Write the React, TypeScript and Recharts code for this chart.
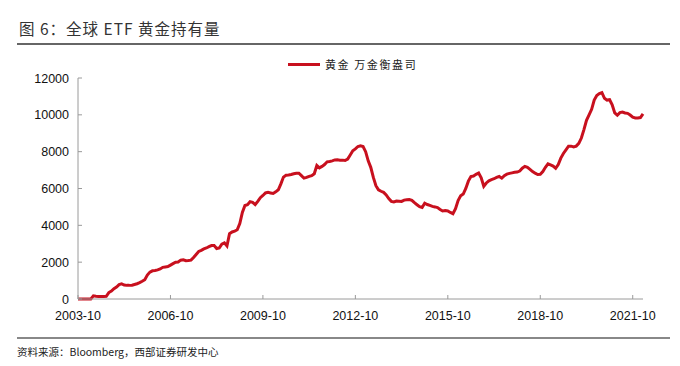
import { LineChart, Line, XAxis, YAxis } from 'recharts'

// 全球 ETF 黄金持有量 (万金衡盎司), monthly from 2003-10
const startYear = 2003
const startMonth = 10

const holdings = [
  0, 0, 0, 0, 0, 0, 170, 150, 140, 140,
  140, 150, 350, 430, 560, 650, 780, 820, 760, 740,
  740, 750, 790, 830, 890, 960, 1050, 1300, 1460, 1530,
  1550, 1580, 1630, 1720, 1740, 1760, 1840, 1920, 2000, 2010,
  2110, 2130, 2080, 2090, 2110, 2250, 2420, 2580, 2640, 2720,
  2770, 2840, 2900, 2900, 2740, 2770, 2980, 3050, 2880, 3550,
  3640, 3680, 3760, 4100, 4700, 5080, 5120, 5280, 5250, 5130,
  5300, 5500, 5620, 5760, 5790, 5760, 5730, 5820, 5930, 6250,
  6620, 6720, 6730, 6760, 6800, 6830, 6830, 6700, 6560, 6600,
  6660, 6700, 6800, 7250, 7120, 7200, 7300, 7450, 7470, 7500,
  7550, 7560, 7540, 7540, 7520, 7600, 7820, 8050, 8150, 8280,
  8320, 8280, 8000, 7500, 7150, 6600, 6150, 5930, 5850, 5790,
  5650, 5450, 5300, 5270, 5320, 5310, 5300, 5370, 5390, 5400,
  5360, 5230, 5120, 5010, 4970, 5200, 5130, 5080, 5030, 5000,
  4960, 4860, 4780, 4800, 4780, 4700, 4630, 4900, 5350, 5600,
  5700, 6000, 6400, 6650, 6680, 6770, 6840, 6580, 6120, 6300,
  6420, 6480, 6530, 6600, 6650, 6560, 6700, 6780, 6820, 6850,
  6880, 6890, 6950, 7100, 7200, 7150, 7040, 6920, 6830, 6760,
  6770, 6920, 7150, 7340, 7280, 7220, 7100, 7300, 7650, 7900,
  8100, 8300, 8300, 8260, 8300, 8450, 8740, 9200, 9700, 10000,
  10300, 10800, 11050, 11150, 11200, 10900, 10800, 10820, 10550, 10100,
  9980, 10120, 10150, 10100, 10080, 9990, 9870, 9830, 9830, 9850,
  10050,
]

const xTicks = ['2003-10', '2006-10', '2009-10', '2012-10', '2015-10', '2018-10', '2021-10']
const yTicks = [0, 2000, 4000, 6000, 8000, 10000, 12000]

const monthLabel = (i: number) => {
  const t = startYear * 12 + (startMonth - 1) + i
  const y = Math.floor(t / 12)
  const m = (t % 12) + 1
  return `${y}-${m < 10 ? '0' + m : m}`
}

const data = holdings.map((v, i) => ({ month: monthLabel(i), value: v }))

const RED = '#C8101E'
const AXIS = '#9a9a9a'
const NUM_FONT = '"Liberation Sans", Arial, sans-serif'
const CJK_FONT = '"Noto Sans CJK SC", "Liberation Sans", sans-serif'

// eslint-disable-next-line @typescript-eslint/no-explicit-any
function YTick({ x, y, payload }: any) {
  return (
    <g>
      <line x1={x} x2={x + 4} y1={y} y2={y} stroke={AXIS} />
      <text x={x - 9} y={y} dy={4.5} textAnchor="end" fill="#111" fontSize={12.5} fontFamily={NUM_FONT}>
        {payload.value}
      </text>
    </g>
  )
}

// eslint-disable-next-line @typescript-eslint/no-explicit-any
function XTick({ x, y, payload }: any) {
  return (
    <g>
      <line x1={x} x2={x} y1={y} y2={y - 4} stroke={AXIS} />
      <text x={x} y={y + 21} textAnchor="middle" fill="#111" fontSize={12.5} fontFamily={NUM_FONT}>
        {payload.value}
      </text>
    </g>
  )
}

export default function App() {
  return (
    <div style={{ position: 'absolute', left: 0, top: 0, width: 680, height: 366, background: '#fff' }}>
      <div
        style={{
          position: 'absolute',
          left: 19,
          top: 17,
          fontFamily: CJK_FONT,
          fontSize: 15.5,
          color: '#333',
          letterSpacing: 1,
          whiteSpace: 'nowrap',
        }}
      >
        图 6：全球 ETF 黄金持有量
      </div>
      <div style={{ position: 'absolute', left: 17, top: 43, width: 653, height: 2, background: '#666' }} />

      <div
        style={{
          position: 'absolute',
          left: 288,
          top: 56,
          display: 'flex',
          alignItems: 'center',
          fontFamily: CJK_FONT,
          fontSize: 11,
          color: '#222',
          whiteSpace: 'nowrap',
          zIndex: 1,
        }}
      >
        <span style={{ display: 'inline-block', width: 32, height: 3, background: RED, marginRight: 5 }} />
        <span style={{ letterSpacing: 1.6 }}>黄金 万金衡盎司</span>
      </div>

      <LineChart width={680} height={366} data={data} margin={{ top: 78, right: 37, bottom: 37, left: 18 }}>
        <XAxis
          dataKey="month"
          ticks={xTicks}
          interval={0}
          tickSize={0}
          tickMargin={0}
          height={30}
          stroke={AXIS}
          tick={<XTick />}
        />
        <YAxis
          domain={[0, 12000]}
          ticks={yTicks}
          interval={0}
          tickSize={0}
          tickMargin={0}
          width={60}
          stroke={AXIS}
          tick={<YTick />}
        />
        <Line
          type="linear"
          dataKey="value"
          stroke={RED}
          strokeWidth={3}
          dot={false}
          activeDot={false}
          isAnimationActive={false}
        />
      </LineChart>

      <div style={{ position: 'absolute', left: 17, top: 337, width: 653, height: 2, background: '#888' }} />
      <div
        style={{
          position: 'absolute',
          left: 17,
          top: 344,
          fontFamily: CJK_FONT,
          fontSize: 10.5,
          color: '#222',
          whiteSpace: 'nowrap',
        }}
      >
        资料来源：Bloomberg，西部证券研发中心
      </div>
    </div>
  )
}
